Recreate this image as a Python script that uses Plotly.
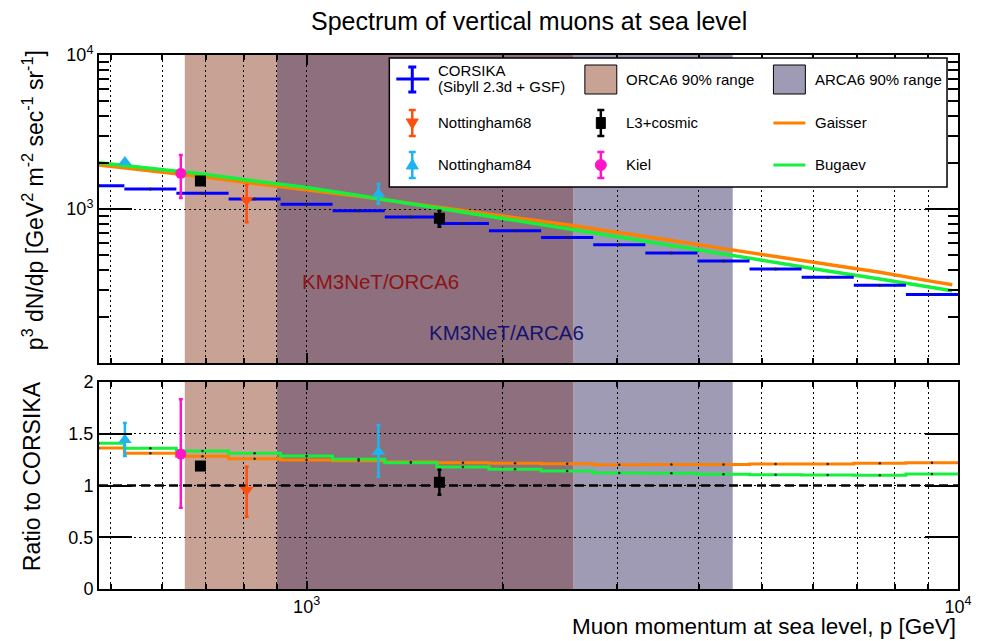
import numpy as np
import plotly.graph_objects as go

# ---------------- data ----------------
bin_edges = [437, 525, 631, 759, 912, 1096, 1318, 1585, 1905, 2291, 2754,
             3311, 3981, 4786, 5754, 6918, 8318, 10000]
corsika_flux = [1416, 1349, 1265, 1161, 1073, 975, 887, 805, 723, 652, 587,
                518, 459, 407, 360, 320, 278]
gaisser_ratio = [1.362, 1.311, 1.282, 1.259, 1.246, 1.240, 1.227, 1.220, 1.214,
                 1.211, 1.201, 1.204, 1.204, 1.208, 1.208, 1.214, 1.221]
bugaev_ratio = [1.408, 1.359, 1.333, 1.311, 1.285, 1.253, 1.220, 1.179, 1.157,
                1.140, 1.121, 1.118, 1.108, 1.105, 1.101, 1.098, 1.111]

curve_p = [480, 575, 692, 832, 1000, 1202, 1445, 1738, 2089, 2512, 3020,
           3631, 4365, 5248, 6310, 7586, 9120, 9800]
gaisser_flux = [1929, 1769, 1622, 1462, 1337, 1209, 1088, 982, 878, 790, 705,
                624, 553, 492, 435, 388, 339, 322]
bugaev_flux = [1994, 1833, 1686, 1522, 1379, 1222, 1082, 949, 837, 743, 658,
               579, 509, 450, 396, 351, 309, 295]

n68_p = [809]
n68_flux = [1143]
n68_up = [289]
n68_dn = [323]
n68_ratio = [0.957]
n68_rup = [0.225]
n68_rdn = [0.258]

n84_p = [526, 1289]
n84_flux = [2019, 1250]
n84_up = [40, 203]
n84_dn = [40, 172]
n84_ratio = [1.440, 1.327]
n84_rup = [0.164, 0.258]
n84_rdn = [0.155, 0.242]

l3_p = [687, 1599]
l3_flux = [1520, 871]
l3_up = [30, 104]
l3_dn = [30, 103]
l3_ratio = [1.188, 1.031]
l3_rerr = [0.02, 0.12]

kiel_p = [641]
kiel_flux = [1706]
kiel_up = [539]
kiel_dn = [528]
kiel_ratio = [1.304]
kiel_rup = [0.529]
kiel_rdn = [0.518]

orca_range = [650, 2570]
arca_range = [900, 4510]
ratio_ref = 1.0

x_range = [480, 10000]

# ---------------- styles ----------------
FONT = "Liberation Sans, Arial, Helvetica, sans-serif"
C_CORS = "#0000ff"
C_N68 = "#ff4f0f"
C_N84 = "#1eb4f0"
C_KIEL = "#ff14c8"
C_L3 = "#000000"
C_GAI = "#ff8000"
C_BUG = "#14f03c"
C_ORCA = "#c8a395"
C_ARCA = "#a09bb4"
C_OVER = "#8d6f7e"

W, H = 984, 641
PL, PR, PT, PB = 99, 960, 55, 589


def px(x):
    return (x - PL) / (PR - PL)


def py(y):
    return (PB - y) / (PB - PT)


fig = go.Figure()

lo = bin_edges[:-1]
hi = bin_edges[1:]
centers = [float(np.sqrt(a * b)) for a, b in zip(lo, hi)]

# ---- top panel ----
fig.add_trace(go.Scatter(x=curve_p, y=gaisser_flux, mode="lines",
                         line=dict(color=C_GAI, width=3.5),
                         xaxis="x", yaxis="y", showlegend=False))
fig.add_trace(go.Scatter(x=curve_p, y=bugaev_flux, mode="lines",
                         line=dict(color=C_BUG, width=3.5),
                         xaxis="x", yaxis="y", showlegend=False))
fig.add_trace(go.Scatter(
    x=centers, y=corsika_flux, mode="markers",
    marker=dict(size=3, color="#1a1a50"),
    error_x=dict(type="data", symmetric=False,
                 array=[h - c for h, c in zip(hi, centers)],
                 arrayminus=[c - l for c, l in zip(centers, lo)],
                 thickness=3, width=0, color=C_CORS),
    xaxis="x", yaxis="y", showlegend=False))


def points(xs, ys, up, dn, color, symbol, size, xa, ya):
    return go.Scatter(
        x=xs, y=ys, mode="markers",
        marker=dict(size=size, color=color, symbol=symbol, line=dict(width=0)),
        error_y=dict(type="data", symmetric=False, array=up, arrayminus=dn,
                     thickness=2.5, width=2, color=color),
        xaxis=xa, yaxis=ya, showlegend=False)


fig.add_trace(points(n68_p, n68_flux, n68_up, n68_dn, C_N68, "triangle-down", 12, "x", "y"))
fig.add_trace(points(n84_p, n84_flux, n84_up, n84_dn, C_N84, "triangle-up", 12, "x", "y"))
fig.add_trace(points(l3_p, l3_flux, l3_up, l3_dn, C_L3, "square", 11, "x", "y"))
fig.add_trace(points(kiel_p, kiel_flux, kiel_up, kiel_dn, C_KIEL, "circle", 11, "x", "y"))

# ---- ratio panel ----
fig.add_trace(go.Scatter(x=bin_edges, y=gaisser_ratio + [gaisser_ratio[-1]],
                         mode="lines", line=dict(shape="hv", color=C_GAI, width=3),
                         xaxis="x2", yaxis="y2", showlegend=False))
fig.add_trace(go.Scatter(x=bin_edges, y=bugaev_ratio + [bugaev_ratio[-1]],
                         mode="lines", line=dict(shape="hv", color=C_BUG, width=3),
                         xaxis="x2", yaxis="y2", showlegend=False))
fig.add_trace(go.Scatter(x=centers + centers, y=gaisser_ratio + bugaev_ratio,
                         mode="markers", marker=dict(size=2.5, color="#222222"),
                         xaxis="x2", yaxis="y2", showlegend=False))
# reference line at ratio 1
fig.add_trace(go.Scatter(x=x_range, y=[ratio_ref, ratio_ref], mode="lines",
                         line=dict(color="black", width=2.5, dash="9px,5px"),
                         xaxis="x2", yaxis="y2", showlegend=False))

fig.add_trace(points(n68_p, n68_ratio, n68_rup, n68_rdn, C_N68, "triangle-down", 12, "x2", "y2"))
fig.add_trace(points(n84_p, n84_ratio, n84_rup, n84_rdn, C_N84, "triangle-up", 12, "x2", "y2"))
fig.add_trace(points(l3_p, l3_ratio, l3_rerr, l3_rerr, C_L3, "square", 11, "x2", "y2"))
fig.add_trace(points(kiel_p, kiel_ratio, kiel_rup, kiel_rdn, C_KIEL, "circle", 11, "x2", "y2"))

# ---------------- shapes ----------------
shapes = []
ov_lo = max(orca_range[0], arca_range[0])
ov_hi = min(orca_range[1], arca_range[1])
band_parts = [
    (orca_range[0], ov_lo, C_ORCA),
    (ov_lo, ov_hi, C_OVER),
    (ov_hi, arca_range[1], C_ARCA),
]
for xa, ya in (("x", "y domain"), ("x2", "y2 domain")):
    for a, b, col in band_parts:
        shapes.append(dict(type="rect", xref=xa, yref=ya, x0=a, x1=b, y0=0, y1=1,
                           fillcolor=col, line=dict(width=0), layer="below"))


# manual legend (paper coordinates)
def pline(x0, y0, x1, y1, color, w):
    return dict(type="line", xref="paper", yref="paper", x0=px(x0), y0=py(y0),
                x1=px(x1), y1=py(y1), line=dict(color=color, width=w), layer="above")


def prect(x0, y0, x1, y1, fill, lc="black", lw=1):
    return dict(type="rect", xref="paper", yref="paper", x0=px(x0), y0=py(y0),
                x1=px(x1), y1=py(y1), fillcolor=fill,
                line=dict(color=lc, width=lw), layer="above")


def errsym(xc, y0, y1, color):
    return [pline(xc, y0, xc, y1, color, 2.5),
            pline(xc - 3.5, y0, xc + 3.5, y0, color, 2.5),
            pline(xc - 3.5, y1, xc + 3.5, y1, color, 2.5)]


def tri(xc, yc, color, down):
    s = 1 if down else -1
    pts = [(xc - 6, yc - 5 * s), (xc + 6, yc - 5 * s), (xc, yc + 5 * s)]
    path = "M " + " L ".join(f"{px(a):.5f},{py(b):.5f}" for a, b in pts) + " Z"
    return dict(type="path", xref="paper", yref="paper", path=path,
                fillcolor=color, line=dict(color=color, width=1), layer="above")


R1, R2, R3 = 79, 123, 165
C1, C2, C3 = 413, 602, 791
shapes.append(prect(390, 58, 949, 187, "white", "black", 1.5))
# CORSIKA cross
shapes.append(pline(397, R1, 430, R1, C_CORS, 3))
shapes += [pline(C1, 67, C1, 92, C_CORS, 3),
           pline(C1 - 4, 67, C1 + 4, 67, C_CORS, 3),
           pline(C1 - 4, 92, C1 + 4, 92, C_CORS, 3)]
# Nottingham68
shapes += errsym(C1, R2 - 13, R2 + 13, C_N68)
shapes.append(tri(C1, R2 + 1, C_N68, True))
# Nottingham84
shapes += errsym(C1, R3 - 13, R3 + 13, C_N84)
shapes.append(tri(C1, R3 - 1, C_N84, False))
# ORCA box
shapes.append(prect(586, 65, 618, 94, C_ORCA))
# L3
shapes += errsym(C2, R2 - 13, R2 + 13, C_L3)
shapes.append(prect(C2 - 4.5, R2 - 5.5, C2 + 4.5, R2 + 5.5, C_L3, C_L3, 1))
# Kiel
shapes += errsym(C2, R3 - 13, R3 + 13, C_KIEL)
shapes.append(dict(type="circle", xref="paper", yref="paper",
                   x0=px(C2 - 5.5), x1=px(C2 + 5.5), y0=py(R3 + 5.5), y1=py(R3 - 5.5),
                   fillcolor=C_KIEL, line=dict(color=C_KIEL, width=1), layer="above"))
# ARCA box
shapes.append(prect(775, 65, 807, 94, C_ARCA))
shapes.append(pline(775, R2, 807, R2, C_GAI, 3))
shapes.append(pline(775, R3, 807, R3, C_BUG, 3))

# ---------------- annotations ----------------
ann = []


def text(x, y, s, size=15, color="black", xanchor="left", angle=0):
    ann.append(dict(x=px(x), y=py(y), xref="paper", yref="paper", text=s,
                    showarrow=False, xanchor=xanchor, yanchor="middle",
                    textangle=angle, font=dict(family=FONT, size=size, color=color)))


text(437, 71, "CORSIKA")
text(437, 86, "(Sibyll 2.3d + GSF)")
text(437, R2, "Nottingham68")
text(437, R3, "Nottingham84")
text(625, R1, "ORCA6 90% range")
text(625, R2, "L3+cosmic")
text(625, R3, "Kiel")
text(815, R1, "ARCA6 90% range")
text(815, R2, "Gaisser")
text(815, R3, "Bugaev")

text(381, 281, "KM3NeT/ORCA6", size=20.5, color="#8c1414", xanchor="center")
text(507, 333, "KM3NeT/ARCA6", size=20.5, color="#14146e", xanchor="center")

text(530, 21, "Spectrum of vertical muons at sea level", size=25, xanchor="center")
text(960, 626, "Muon momentum at sea level, p [GeV]", size=22.5, xanchor="right")
text(33, 200, "p<sup>3</sup> dN/dp [GeV<sup>2</sup> m<sup>-2</sup> sec<sup>-1</sup> sr<sup>-1</sup>]",
     size=23, xanchor="center", angle=-90)
text(32, 476, "Ratio to CORSIKA", size=23, xanchor="center", angle=-90)

# ---------------- axes ----------------
GD = "2px,3px"
minor_x = [500, 600, 700, 800, 900, 2000, 3000, 4000, 5000, 6000, 7000, 8000, 9000]
minor_y = [200, 300, 400, 500, 600, 700, 800, 900,
           2000, 3000, 4000, 5000, 6000, 7000, 8000, 9000]


def xaxis_cfg(anchor, labels, ticklen):
    d = dict(type="log", range=[float(np.log10(x_range[0])), float(np.log10(x_range[1]))],
             domain=[0, 1], anchor=anchor, showline=True, linecolor="black",
             linewidth=2, mirror="ticks", ticks="inside", ticklen=ticklen,
             tickwidth=1.5, tickcolor="black", tickvals=[1000, 10000],
             ticktext=["10<sup>3</sup>", "10<sup>4</sup>"], showticklabels=labels,
             tickfont=dict(family=FONT, size=18, color="black"),
             showgrid=True, gridcolor="black", gridwidth=1, griddash=GD,
             zeroline=False,
             minor=dict(tickvals=minor_x, ticks="inside", ticklen=5, tickwidth=1.5,
                        tickcolor="black", showgrid=True, gridcolor="black",
                        gridwidth=1, griddash=GD))
    return d


top_lo = py(363)
bot_hi = py(382)

fig.update_layout(
    width=W, height=H,
    margin=dict(l=PL, r=W - PR, t=PT, b=H - PB, pad=0),
    paper_bgcolor="white", plot_bgcolor="white",
    showlegend=False,
    font=dict(family=FONT, size=16, color="black"),
    xaxis=xaxis_cfg("y", False, 10),
    xaxis2=dict(xaxis_cfg("y2", True, 8), matches="x"),
    yaxis=dict(type="log", range=[2, 4], domain=[top_lo, 1], anchor="x",
               showline=True, linecolor="black", linewidth=2, mirror="ticks",
               ticks="inside", ticklen=33, tickwidth=1.5, tickcolor="black",
               tickvals=[1000, 10000], ticktext=["10<sup>3</sup>", "10<sup>4</sup>"],
               tickfont=dict(family=FONT, size=18, color="black"),
               showgrid=True, gridcolor="black", gridwidth=1, griddash=GD,
               zeroline=False,
               minor=dict(tickvals=minor_y, ticks="inside", ticklen=10,
                          tickwidth=1.5, tickcolor="black", showgrid=False)),
    yaxis2=dict(range=[0, 2], domain=[0, bot_hi], anchor="x2",
                showline=True, linecolor="black", linewidth=2, mirror="ticks",
                ticks="inside", ticklen=33, tickwidth=1.5, tickcolor="black",
                tickvals=[0, 0.5, 1, 1.5, 2], ticktext=["0", "0.5", "1", "1.5", "2"],
                tickfont=dict(family=FONT, size=18, color="black"),
                showgrid=True, gridcolor="black", gridwidth=1, griddash=GD,
                zeroline=False),
    shapes=shapes,
    annotations=ann,
)

fig.write_html("out.html", config={"displayModeBar": False},
               post_script="document.body.style.margin='0';")
